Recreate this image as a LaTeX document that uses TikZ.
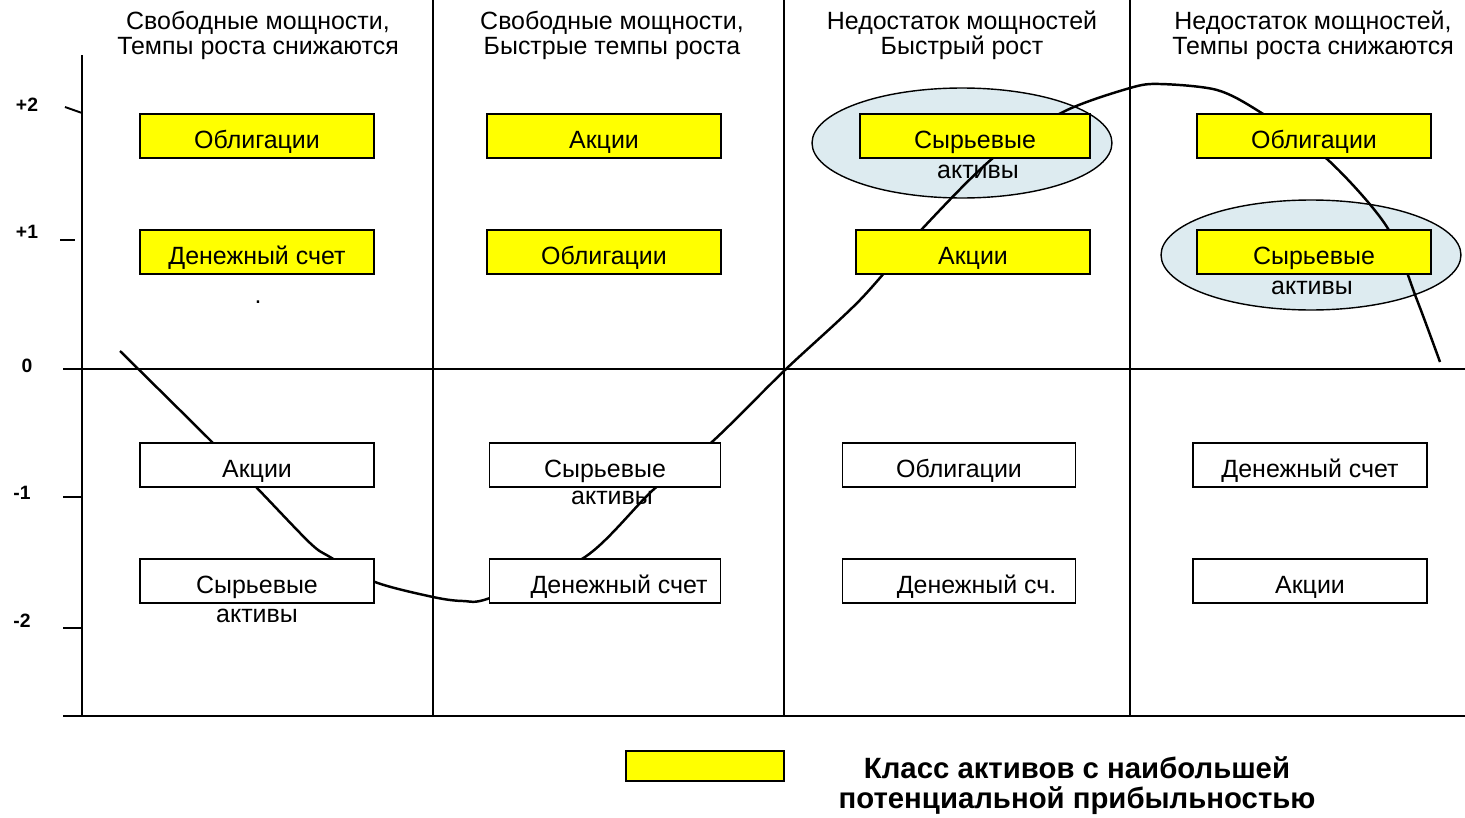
\documentclass[tikz,border=0pt]{standalone}
\usepackage{fontspec}
\setmainfont{Liberation Sans}
\definecolor{boxyellow}{HTML}{FFFF00}
\definecolor{ovalblue}{HTML}{DDEBF0}
\usetikzlibrary{shapes.geometric}
\tikzset{>=latex}

\begin{document}
\begin{tikzpicture}[x=0.02cm, y=-0.02cm,
  grid/.style={line width=1.1pt},
  hdr/.style={align=center, inner sep=0, font=\fontsize{14.2}{14.2}\selectfont},
  tck/.style={inner sep=0, font=\bfseries\fontsize{11}{11}\selectfont},
  asset/.style={draw, line width=1.1pt, minimum width=4.68cm, minimum height=0.88cm, inner sep=0, text height=14.7pt, text depth=0pt, font=\fontsize{14.2}{14.2}\selectfont},
  best/.style={asset, fill=boxyellow},
  rest/.style={asset, fill=white},
  sub/.style={inner sep=0, font=\fontsize{14.2}{14.2}\selectfont},
  oval/.style={ellipse, draw, fill=ovalblue, line width=0.8pt, inner sep=0, minimum width=6cm, minimum height=2.2cm}]
\useasboundingbox (0,0) rectangle (1465,818);
\node[hdr] (h1) at (258,35) {Свободные мощности,\\Темпы роста снижаются};
\node[hdr] (h2) at (612,35) {Свободные мощности,\\Быстрые темпы роста};
\node[hdr] (h3) at (962,35) {Недостаток мощностей\\Быстрый рост};
\node[hdr] (h4) at (1313,35) {Недостаток мощностей,\\Темпы роста снижаются};
\draw[grid] (82,55) -- (82,716);
\draw[grid] (63,716) -- (1465,716);
\draw[grid] (63,369) -- (1465,369);
\foreach \x in {433,784,1130}
  \draw[grid] (\x,0) -- (\x,716);
\draw[grid] (65,107) -- (82,113);
\draw[grid] (60,240) -- (75,240);
\draw[grid] (63,497) -- (82,497);
\draw[grid] (63,628) -- (82,628);
\node[tck] (t2) at (27,105) {+2};
\node[tck] (t1) at (27,232) {+1};
\node[tck] (t0) at (27,366) {0};
\node[tck] (tm1) at (22,493) {-1};
\node[tck] (tm2) at (22,621) {-2};
\node[oval] (ov3) at (962,143) {};
\node[oval] (ov4) at (1311,255) {};
\draw[line width=1.4pt] plot[smooth, tension=0.5] coordinates {(120,351) (210,440) (257,488) (310,543) (330,557) (375,582) (433,597) (463,601) (490,598) (585,557) (653,490) (713,441) (785,370) (860,300) (923,228) (993,158) (1063,112) (1130,88) (1160,84) (1217,90) (1260,112) (1327,159) (1387,227) (1417,300) (1440,362)};
\node[best] (b11) at (257,136) {Облигации};
\node[best] (b12) at (257,252) {Денежный счет};
\node[sub] (dot1) at (258,302) {.};
\node[rest] (r11) at (257,465) {Акции};
\node[rest] (r12) at (257,581) {Сырьевые};
\node[sub] (r12b) at (257,616) {активы};
\node[best] (b21) at (604,136) {Акции};
\node[best] (b22) at (604,252) {Облигации};
\node[rest, minimum width=4.62cm] (r21) at (605,465) {Сырьевые};
\node[sub] (r21b) at (612,498) {активы};
\node[rest, minimum width=4.62cm] (r22) at (605,581) {\hspace{16pt}Денежный счет};
\node[best, minimum width=4.6cm] (b31) at (975,136) {Сырьевые};
\node[sub] (b31b) at (978,172) {активы};
\node[best] (b32) at (973,252) {Акции};
\node[rest, minimum width=4.66cm] (r31) at (959,465) {Облигации};
\node[rest, minimum width=4.66cm] (r32) at (959,581) {\hspace{20pt}Денежный сч.};
\node[best] (b41) at (1314,136) {Облигации};
\node[best] (b42) at (1314,252) {Сырьевые};
\node[sub] (b42b) at (1312,288) {активы};
\node[rest] (r41) at (1310,465) {Денежный счет};
\node[rest] (r42) at (1310,581) {Акции};
\node[best, minimum width=3.16cm, minimum height=0.6cm] (key) at (705,766) {};
\node[align=center, inner sep=0, font=\bfseries\fontsize{16.7}{17}\selectfont] (keytxt) at (1077,786) {Класс активов с наибольшей\\потенциальной прибыльностью};
\end{tikzpicture}
\end{document}
